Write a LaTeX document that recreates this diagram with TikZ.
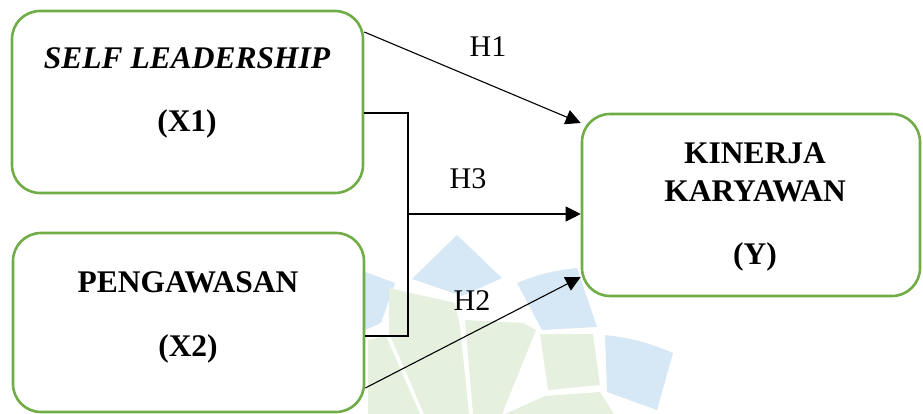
\documentclass[tikz,border=0pt]{standalone}
\usepackage{fontspec}
\setmainfont{Liberation Serif}
\usetikzlibrary{arrows.meta}
\definecolor{boxgreen}{HTML}{70AD47}
\definecolor{wmblue}{HTML}{D6E7F5}
\definecolor{wmgreen}{HTML}{E6F0DE}
\begin{document}
\begin{tikzpicture}[x=1pt,y=-1pt,
  box/.style={draw=boxgreen, line width=2.6pt, rounded corners=28pt, fill=white, inner sep=0pt},
  lbl/.style={anchor=base, font=\fontsize{31.5}{36}\selectfont\bfseries},
  hyp/.style={anchor=base, font=\fontsize{30}{36}\selectfont},
  arr/.style={line width=1.1pt, -{Triangle[length=15pt,width=15pt]}},
  wire/.style={line width=1.3pt},
  wmb/.style={fill=wmblue, draw=none},
  wmg/.style={fill=wmgreen, draw=none}]
\useasboundingbox (0,0) rectangle (923,414);
% faint watermark
\fill[wmb] (412,279) -- (457,235) -- (502,278) -- (462,296) -- cycle;
\fill[wmb] (517,283) to[bend left=8] (577,268) -- (597,327) -- (542,330) -- cycle;
\fill[wmb] (605,335) to[bend left=8] (673,353) -- (657,410) -- (607,392) -- cycle;
\fill[wmb] (360,270) -- (395,283) -- (381,323) -- (365,330) -- cycle;
\fill[wmg] (389,288) -- (455,303) -- (460,327) -- (469,414) -- (424,414) -- (389,333) -- cycle;
\fill[wmg] (465,320) -- (523,323) -- (536,330) -- (502,414) -- (473,414) -- cycle;
\fill[wmg] (540,334) -- (593,334) -- (600,385) -- (548,390) -- cycle;
\fill[wmg] (545,396) -- (600,392) -- (614,414) -- (505,414) -- cycle;
\fill[wmg] (368,340) -- (386,336) -- (420,414) -- (368,414) -- cycle;
% boxes
\node[box, minimum width=351pt, minimum height=182pt] (x1) at (187.5,102) {};
\node[box, minimum width=351pt, minimum height=179pt] (x2) at (188.5,322.5) {};
\node[box, minimum width=338pt, minimum height=182pt] (y) at (751,205) {};
% texts
\node[lbl, font=\fontsize{31.5}{36}\selectfont\bfseries\itshape] (t1a) at (187,69) {SELF LEADERSHIP};
\node[lbl] (t1b) at (187,132) {(X1)};
\node[lbl] (t2a) at (188,292) {PENGAWASAN};
\node[lbl] (t2b) at (188,356) {(X2)};
\node[lbl] (t3a) at (755,164) {KINERJA};
\node[lbl] (t3b) at (755,201) {KARYAWAN};
\node[lbl] (t3c) at (755,264) {(Y)};
% connectors
\coordinate (j) at (408,214);
\draw[wire] (x1.east |- 0,113) -| (j) |- (x2.east |- 0,336);
\draw[arr] (j) -- (y.west |- j);
\draw[arr] (x1.east |- 0,32) -- (y.west |- 0,123);
\draw[arr] (x2.east |- 0,388) -- (y.west |- 0,277);
% hypothesis labels
\node[hyp] (h1) at (488,57) {H1};
\node[hyp] (h3) at (468,189) {H3};
\node[hyp] (h2) at (472,310) {H2};
\end{tikzpicture}
\end{document}
